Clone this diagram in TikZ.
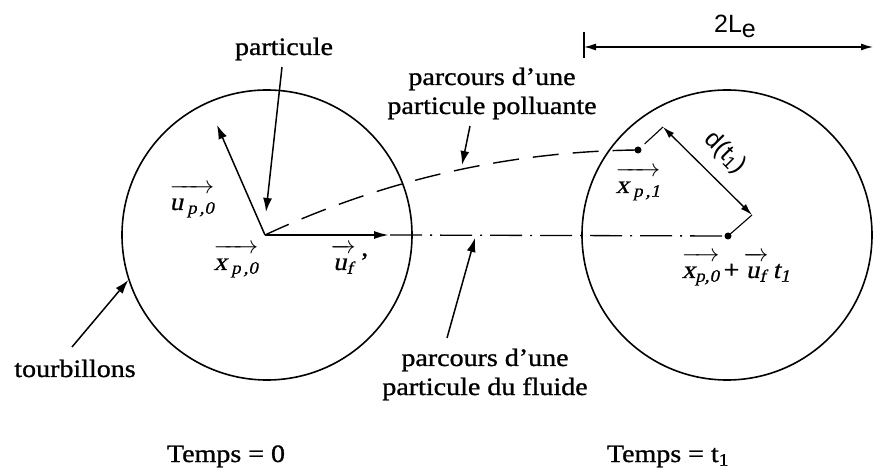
\documentclass[tikz,border=0pt]{standalone}
\usepackage{fontspec}
\setmainfont{Liberation Serif}[FakeStretch=1.12,FakeBold=1]
\newfontfamily\vecfont{Liberation Serif}[FakeSlant=0.22,FakeStretch=1.08,FakeBold=0.6]
\newfontfamily\dimfont{Liberation Sans}
\usetikzlibrary{arrows.meta}
\newcommand\vv[1]{$\overrightarrow{\vphantom{X}\hbox{\vecfont #1}}$}
\newcommand\subs[1]{\textsubscript{\vecfont #1}}
\tikzset{
  lbl/.style={font=\fontsize{25}{29}\selectfont, inner sep=0pt, anchor=base, align=center},
  vecl/.style={font=\fontsize{25}{29}\selectfont, inner sep=0pt, anchor=base},
  dimlbl/.style={font=\dimfont\fontsize{25}{29}\selectfont, inner sep=0pt},
  eddy/.style={circle, draw, line width=1.6pt, minimum size=290pt, inner sep=0pt},
  arr/.style={-{Latex[length=14pt,width=9pt]}, line width=1.5pt},
  dimarr/.style={{Latex[length=12pt,width=7pt]}-{Latex[length=12pt,width=7pt]}, line width=1.3pt},
}
\begin{document}
\begin{tikzpicture}[x=1pt,y=-1pt]
\useasboundingbox (0,0) rectangle (873,470);
% eddies
\node[eddy] (C1) at (267,235) {};
\node[eddy] (C2) at (727,235) {};
% key points
\coordinate (O) at (265,235);
\coordinate (O2) at (728,236);
\coordinate (P1) at (638,150);
\coordinate (up) at (217,125);
\coordinate (uf) at (390,235);
\coordinate (ptip) at (266,212);
\coordinate (dA) at (663,127);
\coordinate (dB) at (752,215);
\coordinate (pollT) at (462,165);
\coordinate (fluT) at (475,238);
\coordinate (LeA) at (584,47);
\coordinate (LeB) at (873,47);
\coordinate (tickT) at (584,32);
\coordinate (tickB) at (584,58);
% paths
\draw[line width=1.4pt, dash pattern=on 26pt off 14pt] (O) .. controls (400,172) and (530,151) .. (P1);
\draw[line width=1.3pt, dash pattern=on 32pt off 8pt on 2pt off 8pt] (uf) -- (O2);
\fill (O2) circle (3.5pt);
\fill (P1) circle (3.5pt);
% vectors
\draw[arr] (O) -- (up);
\draw[-{Latex[length=16pt,width=8pt]}, line width=2.6pt] (O) -- (uf);
% d(t1)
\draw[line width=1.1pt, dash pattern=on 0pt off 9pt on 30pt] (P1) -- (dA);
\draw[line width=1.1pt] (O2) -- (dB);
\draw[dimarr] (dA) -- (dB);
\node[dimlbl, rotate=-45] (dlab) at (725,153) {d(t\textsubscript{1})};
% 2Le
\draw[line width=1.3pt] (tickT) -- (tickB);
\draw[dimarr] (LeA) -- (LeB);
\node[dimlbl] (Le) at (735,26) {2L\raisebox{-5pt}{e}};
% labels
\node[lbl] (part) at (284,55) {particule};
\draw[arr] (282,67) -- (ptip);
\node[lbl] (poll) at (492,114) {parcours d'une\\particule polluante};
\draw[arr] (470,126) -- (pollT);
\node[lbl] (flu) at (485,395) {parcours d'une\\particule du fluide};
\draw[arr] (447,338) -- (fluT);
\node[lbl] (tour) at (75,377) {tourbillons};
\draw[arr] (72,347) -- (C1.198);
\node[lbl] (t0) at (226,462) {Temps = 0};
\node[lbl] (t1) at (668,462) {Temps = t\textsubscript{1}};
% vector labels
\node[vecl] (lup) at (192,210) {\vv{u\,\subs{p\,,0}}};
\node[vecl] (lxp) at (236,270) {\vv{x\,\subs{p\,,0}}};
\node[vecl] (luf) at (350,270) {\vv{u\subs{f}}\,'};
\node[vecl] (lx1) at (638,193) {\vv{x\,\subs{p\,,1}}};
\node[vecl] (lxt) at (736,278) {\vv{x\subs{p,0}}\,+\,\vv{u\subs{f}}\,{\vecfont t}\subs{1}};
\end{tikzpicture}
\end{document}
